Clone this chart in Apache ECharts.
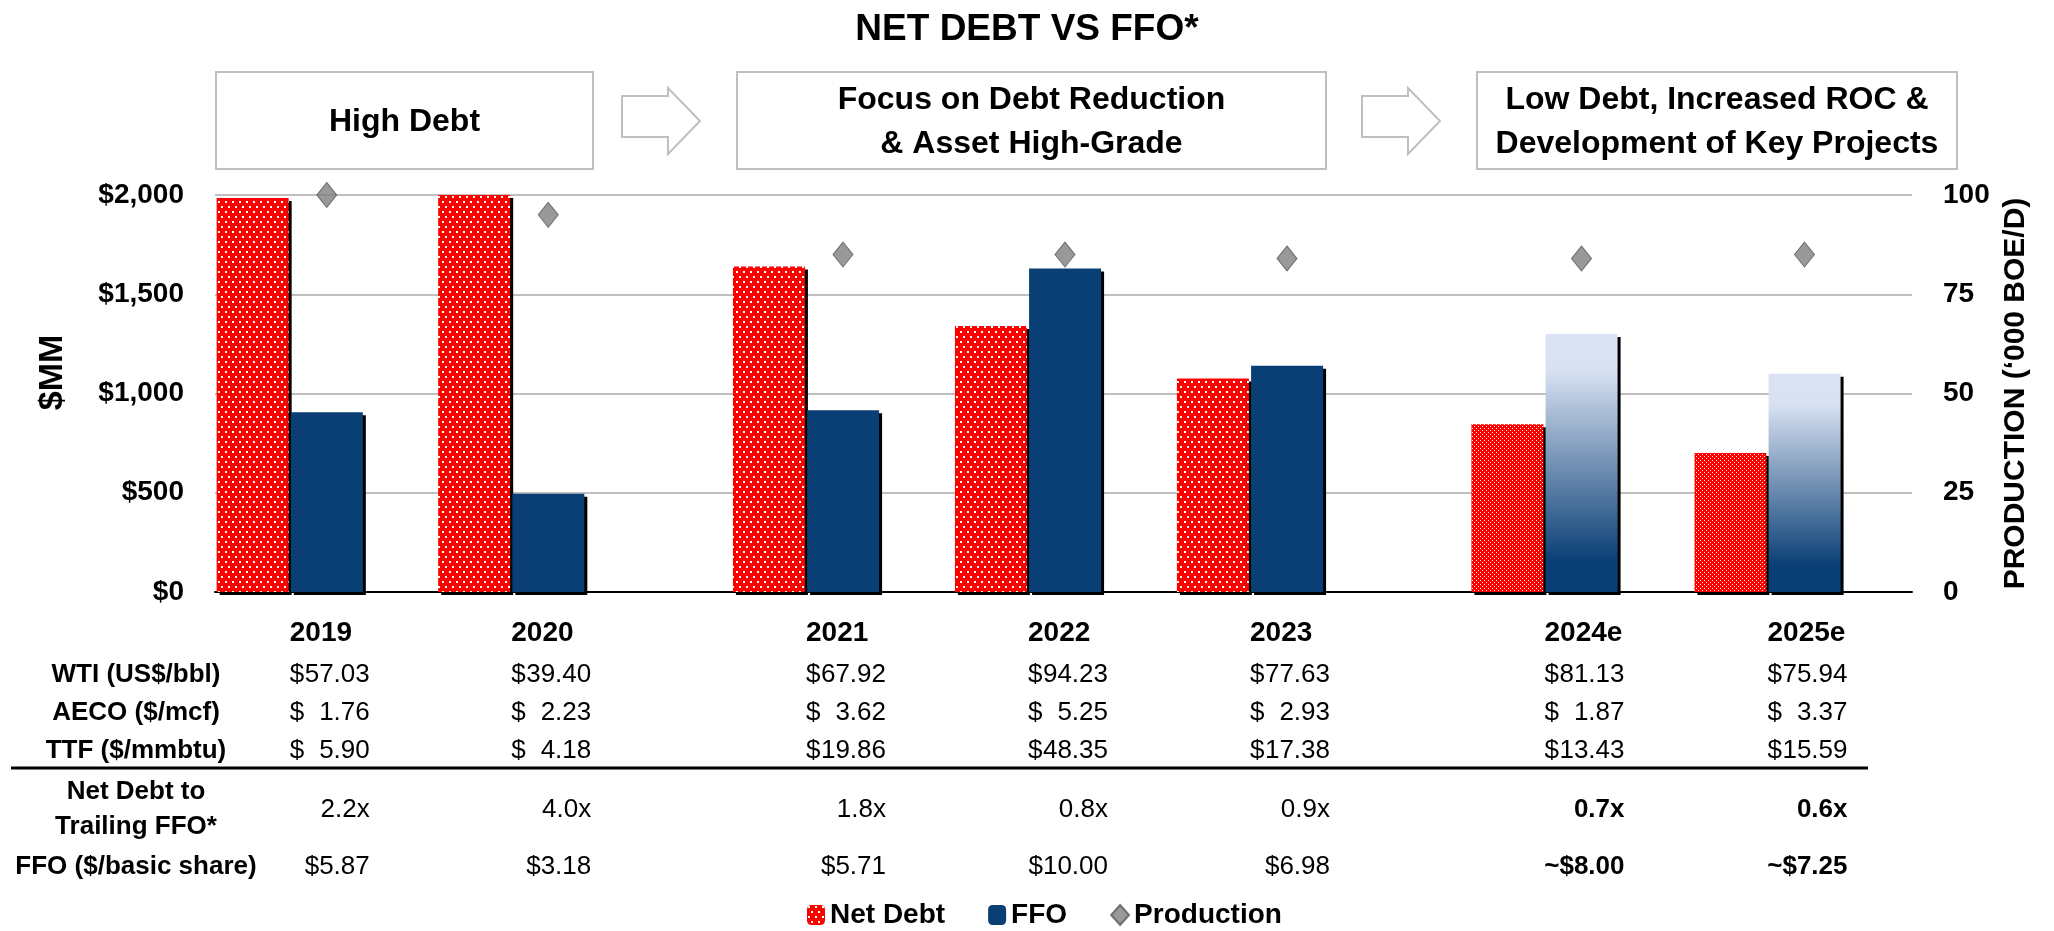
<!DOCTYPE html>
<html>
<head>
<meta charset="utf-8">
<script src="https://cdn.jsdelivr.net/npm/echarts@6/dist/echarts.min.js"></script>
<style>html,body{margin:0;padding:0;background:#fff}#main{width:2054px;height:931px}</style>
</head>
<body>
<div id="main"></div>
<script>
// ---------------- data ----------------
const categories = ['2019', '2020', '2021', '2022', '2023', '2024e', '2025e'];
const netDebt = [1985, 2005, 1640, 1340, 1075, 845, 700];
const ffo = [905, 495, 915, 1630, 1140, 1300, 1100];
const production = [100, 95, 85, 85, 84, 84, 85];
const isEstimate = [false, false, false, false, false, true, true];
const phaseSizes = [2, 3, 2];
const phaseLabels = ['High Debt', 'Focus on Debt Reduction\n& Asset High-Grade', 'Low Debt, Increased ROC &\nDevelopment of Key Projects'];
const wti = ['57.03', '39.40', '67.92', '94.23', '77.63', '81.13', '75.94'];
const aeco = ['1.76', '2.23', '3.62', '5.25', '2.93', '1.87', '3.37'];
const ttf = ['5.90', '4.18', '19.86', '48.35', '17.38', '13.43', '15.59'];
const debtToFfo = ['2.2x', '4.0x', '1.8x', '0.8x', '0.9x', '0.7x', '0.6x'];
const ffoPerShare = ['$5.87', '$3.18', '$5.71', '$10.00', '$6.98', '~$8.00', '~$7.25'];
const rowLabels = ['WTI (US$/bbl)', 'AECO ($/mcf)', 'TTF ($/mmbtu)', 'Net Debt to\nTrailing FFO*', 'FFO ($/basic share)'];
const moneyTicks = { min: 0, max: 2000, interval: 500 };
const prodTicks = { min: 0, max: 100, interval: 25 };

// ---------------- layout / style ----------------
const FONT = '"Liberation Sans", Arial, sans-serif';
const PLOT_TOP = 195, PLOT_H = 397, PLOT_LEFT = 215, PLOT_RIGHT_X = 1912;
const BASE_Y = PLOT_TOP + PLOT_H;
const phaseGrids = [ { left: 179, width: 443 }, { left: 695, width: 666 }, { left: 1433, width: 446 } ];
const rowY = [675, 713, 751, 810, 867];
const rowKinds = ['money', 'money', 'money', 'plain', 'plain'];
const rowData = [wti, aeco, ttf, debtToFfo, ffoPerShare];
const LINE_H = 30;

function makePattern(w, h, dots, dw, dh) {
  const c = document.createElement('canvas');
  c.width = w; c.height = h;
  const ctx = c.getContext('2d');
  ctx.fillStyle = '#FF0000'; ctx.fillRect(0, 0, w, h);
  ctx.fillStyle = '#FFFFFF';
  dots.forEach(d => ctx.fillRect(d[0], d[1], dw, dh));
  return c;
}
const dotPattern = { image: makePattern(7, 10, [[1, 1], [4, 6]], 2, 2), repeat: 'repeat' };
const checkPattern = { image: makePattern(4, 4, [[0, 0], [2, 2]], 1, 1), repeat: 'repeat' };
const NAVY = '#0A3F75';
const ffoGradient = new echarts.graphic.LinearGradient(0, 0, 0, 1, [
  { offset: 0, color: '#DAE3F3' }, { offset: 0.14, color: '#D8E1F2' },
  { offset: 0.88, color: NAVY }, { offset: 1, color: NAVY }
]);
const shadow = { shadowColor: '#000', shadowOffsetX: 3, shadowOffsetY: 3, shadowBlur: 0 };

const grids = [], xAxes = [], yAxes = [], series = [];
const hiddenY = (g, t) => ({ gridIndex: g, type: 'value', min: t.min, max: t.max, interval: t.interval,
  axisLine: { show: false }, axisTick: { show: false }, axisLabel: { show: false }, splitLine: { show: false } });

let start = 0;
phaseSizes.forEach((size, g) => {
  const idx = [];
  for (let i = start; i < start + size; i++) idx.push(i);
  const s0 = start;
  grids.push({ left: phaseGrids[g].left, width: phaseGrids[g].width, top: PLOT_TOP, height: PLOT_H });
  const primary = xAxes.length;
  xAxes.push({
    gridIndex: g, type: 'category', data: idx.map(i => categories[i]),
    axisLine: { show: false }, axisTick: { show: false }, splitLine: { show: false },
    axisLabel: { interval: 0, align: 'left', margin: 633 - BASE_Y - LINE_H / 2, lineHeight: LINE_H,
      fontFamily: FONT, fontSize: 28, fontWeight: 'bold', color: '#000' }
  });
  rowData.forEach((arr, r) => {
    xAxes.push({
      gridIndex: g, type: 'category', position: 'bottom', offset: rowY[r] - BASE_Y - LINE_H / 2,
      data: idx.map(i => arr[i]),
      axisLine: { show: false }, axisTick: { show: false }, splitLine: { show: false },
      axisLabel: {
        interval: 0, align: 'left', margin: 0, hideOverlap: false,
        formatter: (v, k) => {
          if (rowKinds[r] === 'money') return '{d|$}{n|' + v + '}';
          return (isEstimate[s0 + k] ? '{b|' : '{p|') + v + '}';
        },
        rich: {
          d: { width: 15, align: 'left', fontFamily: FONT, fontSize: 26, color: '#000', lineHeight: LINE_H },
          n: { width: 65, align: 'right', fontFamily: FONT, fontSize: 26, color: '#000', lineHeight: LINE_H },
          p: { width: 80, align: 'right', fontFamily: FONT, fontSize: 26, color: '#000', lineHeight: LINE_H },
          b: { width: 80, align: 'right', fontFamily: FONT, fontSize: 26, fontWeight: 'bold', color: '#000', lineHeight: LINE_H }
        }
      }
    });
  });
  const ym = yAxes.length; yAxes.push(hiddenY(g, moneyTicks));
  const yp = yAxes.length; yAxes.push(hiddenY(g, prodTicks));
  series.push({
    name: 'Net Debt', type: 'bar', xAxisIndex: primary, yAxisIndex: ym, barWidth: 72, barGap: '3%', z: 3,
    itemStyle: Object.assign({ color: dotPattern }, shadow),
    data: idx.map(i => ({ value: netDebt[i], itemStyle: Object.assign({ color: isEstimate[i] ? checkPattern : dotPattern }, shadow) }))
  });
  series.push({
    name: 'FFO', type: 'bar', xAxisIndex: primary, yAxisIndex: ym, barWidth: 72, barGap: '3%', z: 3,
    itemStyle: Object.assign({ color: NAVY }, shadow),
    data: idx.map(i => ({ value: ffo[i], itemStyle: Object.assign({ color: isEstimate[i] ? ffoGradient : NAVY }, shadow) }))
  });
  series.push({
    name: 'Production', type: 'scatter', xAxisIndex: primary, yAxisIndex: yp, z: 5,
    symbol: 'diamond', symbolSize: [20, 25], symbolOffset: [37, 0],
    itemStyle: { color: '#808080', borderColor: '#595959', borderWidth: 1 },
    data: idx.map(i => production[i])
  });
  start += size;
});

// main grid with visible axes
const mg = grids.length;
grids.push({ left: PLOT_LEFT, right: 2054 - PLOT_RIGHT_X, top: PLOT_TOP, height: PLOT_H });
xAxes.push({ gridIndex: mg, type: 'category', data: [''], axisLine: { lineStyle: { color: '#000', width: 2 } },
  axisTick: { show: false }, axisLabel: { show: false }, splitLine: { show: false }, z: 1 });
yAxes.push({
  gridIndex: mg, type: 'value', position: 'left', min: moneyTicks.min, max: moneyTicks.max, interval: moneyTicks.interval,
  name: '$MM', nameLocation: 'middle', nameGap: 145, nameRotate: 90,
  nameTextStyle: { fontFamily: FONT, fontSize: 34, fontWeight: 'bold', color: '#000', padding: [0, 0, 0, 42] },
  axisLine: { show: false }, axisTick: { show: false },
  axisLabel: { margin: 31, fontFamily: FONT, fontSize: 28, fontWeight: 'bold', color: '#000',
    formatter: v => '$' + v.toLocaleString('en-US') },
  splitLine: { lineStyle: { color: '#BFBFBF', width: 2 } }
});
yAxes.push({
  gridIndex: mg, type: 'value', position: 'right', min: prodTicks.min, max: prodTicks.max, interval: prodTicks.interval,
  name: 'PRODUCTION (\u2018000 BOE/D)', nameLocation: 'middle', nameGap: 86, nameRotate: 90,
  nameTextStyle: { fontFamily: FONT, fontSize: 30, fontWeight: 'bold', color: '#000' },
  axisLine: { show: false }, axisTick: { show: false },
  axisLabel: { margin: 31, fontFamily: FONT, fontSize: 28, fontWeight: 'bold', color: '#000' },
  splitLine: { show: false }
});

// graphics: phase boxes, arrows, table row labels, rule
const boxes = [ { x: 216, w: 377 }, { x: 737, w: 589 }, { x: 1477, w: 480 } ];
const graphic = [];
boxes.forEach((b, i) => {
  graphic.push({ type: 'rect', shape: { x: b.x, y: 72, width: b.w, height: 97 },
    style: { fill: '#fff', stroke: '#BFBFBF', lineWidth: 2 }, z: 1 });
  graphic.push({ type: 'text', x: b.x + b.w / 2, y: 122, z: 2,
    style: { text: phaseLabels[i], align: 'center', verticalAlign: 'middle', lineHeight: 44,
      font: 'bold 32px ' + FONT, fill: '#000' } });
});
[622, 1362].forEach(x0 => {
  graphic.push({ type: 'polygon', z: 1,
    shape: { points: [[x0, 96], [x0 + 46, 96], [x0 + 46, 88], [x0 + 78, 121], [x0 + 46, 154], [x0 + 46, 137], [x0, 137]] },
    style: { fill: '#fff', stroke: '#BFBFBF', lineWidth: 2 } });
});
rowLabels.forEach((t, r) => {
  const y = r === 3 ? 809 : rowY[r];
  graphic.push({ type: 'text', x: 136, y: y, z: 2,
    style: { text: t, align: 'center', verticalAlign: 'middle', lineHeight: 35, font: 'bold 26px ' + FONT, fill: '#000' } });
});
graphic.push({ type: 'line', z: 2, shape: { x1: 11, y1: 768, x2: 1868, y2: 768 }, style: { stroke: '#000', lineWidth: 3 } });

const option = {
  animation: false,
  backgroundColor: '#fff',
  textStyle: { fontFamily: FONT },
  title: { text: 'NET DEBT VS FFO*', left: 'center', top: 5,
    textStyle: { fontFamily: FONT, fontSize: 37, fontWeight: 'bold', color: '#000', lineHeight: 40 } },
  legend: { data: ['Net Debt', 'FFO', 'Production'], left: 802, top: 896, itemWidth: 18, itemHeight: 20, itemGap: 43,
    textStyle: { fontFamily: FONT, fontSize: 28, fontWeight: 'bold', color: '#000' } },
  grid: grids, xAxis: xAxes, yAxis: yAxes, series: series, graphic: graphic
};
const chart = echarts.init(document.getElementById('main'));
chart.setOption(option);
</script>
</body>
</html>
